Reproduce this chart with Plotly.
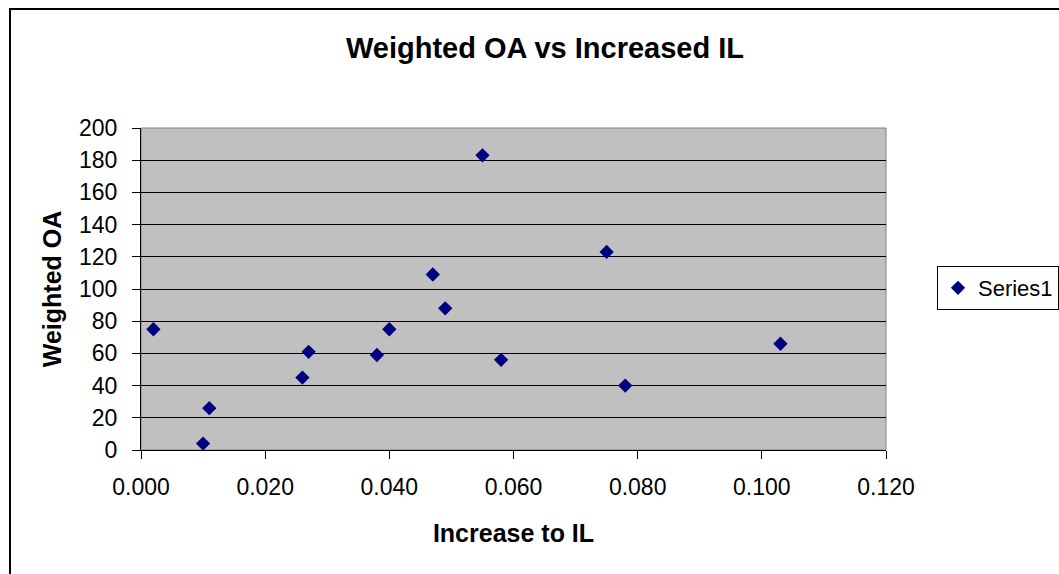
import plotly.graph_objects as go

increase_to_il = [0.002, 0.010, 0.011, 0.026, 0.027, 0.038, 0.040, 0.047, 0.049, 0.055, 0.058, 0.075, 0.078, 0.103]
weighted_oa = [75, 4, 26, 45, 61, 59, 75, 109, 88, 183, 56, 123, 40, 66]
series_name = "Series1"
title_text = "Weighted OA vs Increased IL"
x_title = "Increase to IL"
y_title = "Weighted OA"

FONT = "Liberation Sans, Arial, sans-serif"

fig = go.Figure()
fig.add_trace(go.Scatter(
    x=increase_to_il, y=weighted_oa, mode="markers", name=series_name,
    marker=dict(symbol="diamond", size=11, color="#000080", line=dict(width=0)),
    showlegend=True,
))

fig.update_layout(
    width=1059, height=574,
    margin=dict(l=141, r=173, t=128, b=124, autoexpand=False),
    paper_bgcolor="white", plot_bgcolor="#C0C0C0",
    font=dict(family=FONT, color="black", size=23),
    title=dict(text="<b>" + title_text + "</b>", x=545 / 1059, xanchor="center",
               y=1 - 48 / 574, yanchor="middle",
               font=dict(family=FONT, size=29, color="black")),
    xaxis=dict(range=[0, 0.12], tickvals=[0, 0.02, 0.04, 0.06, 0.08, 0.10, 0.12],
               tickformat=".3f", showgrid=False, zeroline=False,
               showline=True, linecolor="black", linewidth=1,
               ticks="outside", ticklen=8, tickcolor="black",
               ticklabelstandoff=8,
               tickfont=dict(size=23),
               title=dict(text="<b>" + x_title + "</b>", font=dict(size=25), standoff=25)),
    yaxis=dict(range=[0, 200], tickvals=list(range(0, 201, 20)),
               showgrid=True, gridcolor="black", gridwidth=1, zeroline=False,
               showline=True, linecolor="black", linewidth=1,
               ticks="outside", ticklen=8, tickcolor="black",
               ticklabelstandoff=10,
               tickfont=dict(size=23),
               title=dict(text="<b>" + y_title + "</b>", font=dict(size=25), standoff=10)),
    legend=dict(x=(937 - 141) / 745, xanchor="left", y=(450 - 288) / 322, yanchor="middle",
                xref="paper", yref="paper",
                bgcolor="white", bordercolor="black", borderwidth=1,
                font=dict(size=22), itemwidth=30),
    shapes=[
        dict(type="rect", xref="paper", yref="paper",
             x0=(10 - 141) / 745, x1=(1070 - 141) / 745,
             y0=-(590 - 450) / 322, y1=1 + (128 - 9) / 322,
             line=dict(color="black", width=2), fillcolor="rgba(0,0,0,0)", layer="below"),
        dict(type="rect", xref="paper", yref="paper", x0=0, x1=1, y0=0, y1=1,
             line=dict(color="#808080", width=1), fillcolor="rgba(0,0,0,0)", layer="below"),
    ],
)

fig.write_html("out.html")
